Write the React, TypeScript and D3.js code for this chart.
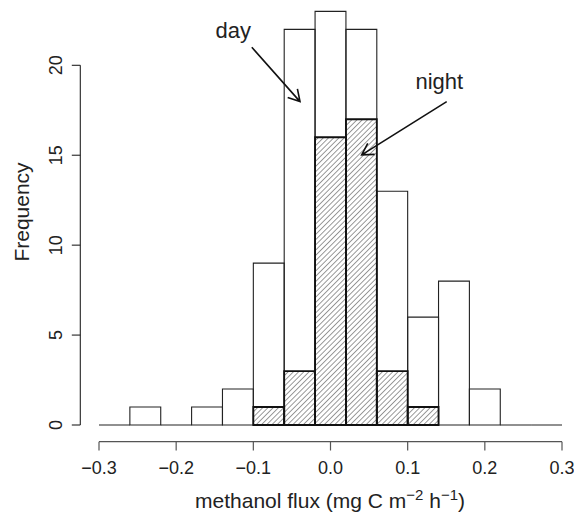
import React from "react";
import * as d3 from "d3";

const breaks = [-0.3, -0.26, -0.22, -0.18, -0.14, -0.1, -0.06, -0.02, 0.02, 0.06, 0.1, 0.14, 0.18, 0.22, 0.26, 0.3];
const dayCounts = [0, 1, 0, 1, 2, 9, 22, 23, 22, 13, 6, 8, 2, 0, 0];
const nightCounts = [0, 0, 0, 0, 0, 1, 3, 16, 17, 3, 1, 0, 0, 0, 0];
const xTicks = [-0.3, -0.2, -0.1, 0.0, 0.1, 0.2, 0.3];
const yTicks = [0, 5, 10, 15, 20];
const labelsText = ["day", "night"];
const labelsPos = [[-0.126, 21.52], [0.141, 18.69]];
const arrowFrom = [[-0.102, 21.0], [0.1506, 17.98]];
const arrowTo = [[-0.0395, 17.98], [0.0404, 15.02]];

const W = 574;
const H = 514;
const FONT = "'Liberation Sans', Arial, Helvetica, sans-serif";

export default function App() {
  const x = d3.scaleLinear().domain([-0.3, 0.3]).range([99, 562]);
  const y = d3.scaleLinear().domain([0, 20]).range([425, 65.3]);
  const fmt = d3.format(".1f");

  const barPath = (i: number, c: number) => {
    const x0 = x(breaks[i]);
    const x1 = x(breaks[i + 1]);
    const y0 = y(0);
    const y1 = y(c);
    return `M${x0},${y0}V${y1}H${x1}V${y0}Z`;
  };

  const arrowHead = (from: number[], to: number[]) => {
    const x0 = x(from[0]), y0 = y(from[1]);
    const x1 = x(to[0]), y1 = y(to[1]);
    const ang = Math.atan2(y1 - y0, x1 - x0);
    const L = 13;
    const a = Math.PI / 6;
    const p1 = [x1 - L * Math.cos(ang - a), y1 - L * Math.sin(ang - a)];
    const p2 = [x1 - L * Math.cos(ang + a), y1 - L * Math.sin(ang + a)];
    return `M${x0},${y0}L${x1},${y1}M${p1[0]},${p1[1]}L${x1},${y1}L${p2[0]},${p2[1]}`;
  };

  return (
    <svg width={W} height={H} style={{ position: "absolute", left: 0, top: 0, background: "#fff" }} fontFamily={FONT}>
      <defs>
        <pattern id="hatch" patternUnits="userSpaceOnUse" width={3.7} height={3.7} patternTransform="rotate(45)">
          <line x1={0} y1={0} x2={0} y2={3.7} stroke="#111" strokeWidth={0.85} />
        </pattern>
      </defs>
      <rect x={0} y={0} width={W} height={H} fill="#fff" />
      {nightCounts.map((c, i) =>
        c > 0 ? <path key={"nf" + i} d={barPath(i, c)} fill="url(#hatch)" stroke="none" /> : null
      )}
      {dayCounts.map((c, i) => (
        <path key={"d" + i} d={barPath(i, c)} fill="none" stroke="#222" strokeWidth={1.1} />
      ))}
      {nightCounts.map((c, i) =>
        c > 0 ? <path key={"nb" + i} d={barPath(i, c)} fill="none" stroke="#111" strokeWidth={1.8} /> : null
      )}
      <g stroke="#555" strokeWidth={1.2}>
        <line x1={x(-0.3)} x2={x(0.3)} y1={441.7} y2={441.7} />
        {xTicks.map((t) => (
          <line key={"xt" + t} x1={x(t)} x2={x(t)} y1={441.7} y2={450.5} />
        ))}
      </g>
      {xTicks.map((t) => (
        <text key={"xl" + t} x={x(t)} y={473.5} textAnchor="middle" fontSize={18} fill="#222">
          {fmt(t)}
        </text>
      ))}
      <g stroke="#222" strokeWidth={1.1}>
        <line x1={80.3} x2={80.3} y1={y(0)} y2={y(20)} />
        {yTicks.map((t) => (
          <line key={"yt" + t} x1={80.3} x2={71.8} y1={y(t)} y2={y(t)} />
        ))}
      </g>
      {yTicks.map((t) => (
        <text
          key={"yl" + t}
          transform={`translate(61.5,${y(t)}) rotate(-90)`}
          textAnchor="middle"
          fontSize={18}
          fill="#222"
        >
          {t}
        </text>
      ))}
      <text transform="translate(28.5,212) rotate(-90)" textAnchor="middle" fontSize={21} fill="#222">
        Frequency
      </text>
      <text x={330} y={508} textAnchor="middle" fontSize={21} fill="#222">
        methanol flux (mg C m
        <tspan fontSize={15} dy={-8}>−2</tspan>
        <tspan dy={8}> h</tspan>
        <tspan fontSize={15} dy={-8}>−1</tspan>
        <tspan dy={8}>)</tspan>
      </text>
      {labelsText.map((s, i) => (
        <text key={"a" + i} x={x(labelsPos[i][0])} y={y(labelsPos[i][1])} textAnchor="middle" fontSize={22} fill="#222">
          {s}
        </text>
      ))}
      {labelsText.map((s, i) => (
        <path key={"ar" + i} d={arrowHead(arrowFrom[i], arrowTo[i])} fill="none" stroke="#111" strokeWidth={1.6} />
      ))}
    </svg>
  );
}
